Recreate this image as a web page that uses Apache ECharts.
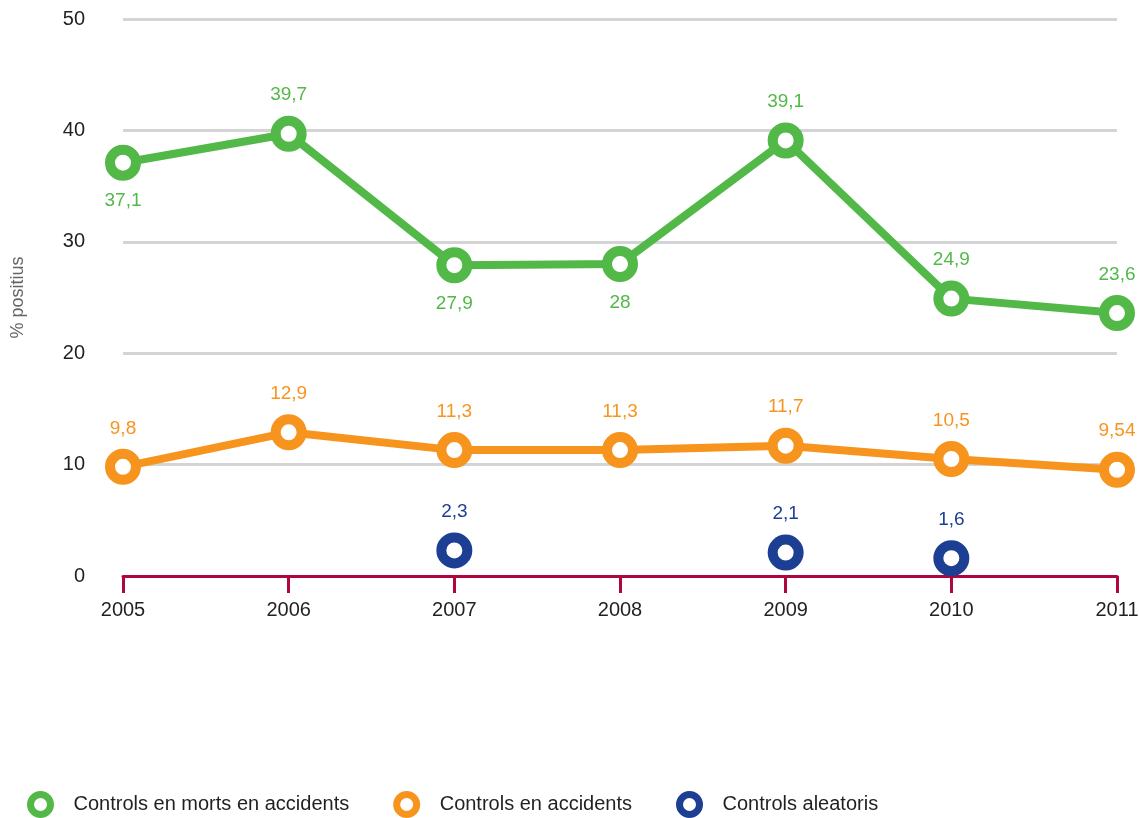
<!DOCTYPE html>
<html><head><meta charset="utf-8">
<script src="https://cdn.jsdelivr.net/npm/echarts@6/dist/echarts.min.js"></script>
<style>html,body{margin:0;padding:0;background:#fff}#c{width:1139px;height:818px}</style>
</head><body><div id="c"></div>
<script>
var years = ['2005','2006','2007','2008','2009','2010','2011'];
var seriesNames = ['Controls en morts en accidents','Controls en accidents','Controls aleatoris'];
var mortsValues = [37.1, 39.7, 27.9, 28, 39.1, 24.9, 23.6];
var accidentsValues = [9.8, 12.9, 11.3, 11.3, 11.7, 10.5, 9.54];
var aleatorisValues = [null, null, 2.3, null, 2.1, 1.6, null];
var belowLabelIdx = [0, 2, 3];
var colors = ['#52b848', '#f7941d', '#1c3f94'];
var FONT = '"Liberation Sans Narrow", "Arial Narrow", "Liberation Sans", sans-serif';

function fmt(v){ return String(v).replace('.', ','); }
function mk(name, vals, color, below, noLine){
  return {
    name: name, type: 'line', data: vals.map(function(v, i){
      if (v === null) return null;
      var o = {value: v};
      if (below && below.indexOf(i) >= 0) o.label = {position: 'bottom'};
      return o;
    }),
    symbol: 'circle', symbolSize: 26, showAllSymbol: true, connectNulls: false,
    lineStyle: {color: color, width: noLine ? 0 : 8, opacity: noLine ? 0 : 1},
    itemStyle: {color: '#fff', borderColor: color, borderWidth: 10},
    label: {show: true, position: 'top', distance: 11, color: color, fontSize: 19, fontFamily: FONT,
      formatter: function(p){ return fmt(p.value); }},
    emphasis: {disabled: true},
    z: 3
  };
}
var chart = echarts.init(document.getElementById('c'));
chart.setOption({
  animation: false,
  backgroundColor: '#fff',
  grid: {left: 123, right: 22, top: 19, bottom: 242, outerBoundsMode: 'none', containLabel: false},
  legend: {
    left: 22, top: 786, itemWidth: 20, itemHeight: 20, itemGap: 44,
    textStyle: {fontSize: 20, fontFamily: FONT, color: '#231f20', padding: [0,0,0,18]},
    data: seriesNames.map(function(n, i){
      return {name: n, icon: 'circle', itemStyle: {color: '#fff', borderColor: colors[i], borderWidth: 7}};
    })
  },
  xAxis: {
    type: 'category', data: years, boundaryGap: false,
    axisLine: {lineStyle: {color: '#b0063f', width: 3}},
    axisTick: {show: true, length: 17, lineStyle: {color: '#b0063f', width: 3}},
    axisLabel: {fontSize: 20, fontFamily: FONT, color: '#231f20', margin: 24}
  },
  yAxis: {
    type: 'value', min: 0, max: 50, interval: 10,
    name: '% positius', nameLocation: 'middle', nameGap: 96, nameRotate: 90,
    nameTextStyle: {fontSize: 18, fontFamily: FONT, color: '#666'},
    axisLine: {show: false}, axisTick: {show: false},
    axisLabel: {fontSize: 20, fontFamily: FONT, color: '#231f20', margin: 38, verticalAlign: 'middle', padding: [8,0,0,0]},
    splitLine: {lineStyle: {color: '#d4d4d6', width: 3}}
  },
  series: [
    mk(seriesNames[0], mortsValues, colors[0], belowLabelIdx, false),
    mk(seriesNames[1], accidentsValues, colors[1], null, false),
    mk(seriesNames[2], aleatorisValues, colors[2], null, true)
  ]
});
</script></body></html>
